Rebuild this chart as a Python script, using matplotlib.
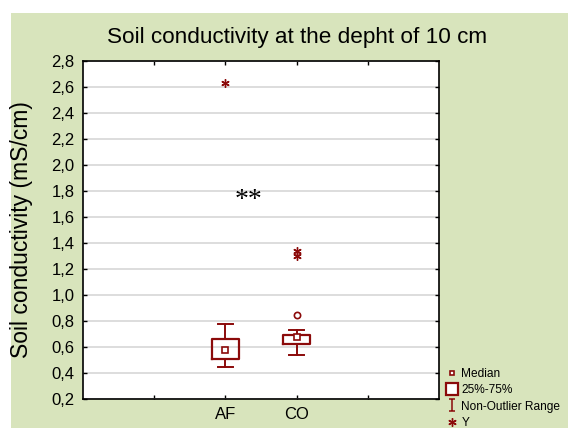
import numpy as np
import matplotlib.pyplot as plt
from matplotlib.patches import Rectangle
from matplotlib.lines import Line2D
from matplotlib.path import Path
from matplotlib.ticker import FuncFormatter

# group data
groups = ["AF", "CO"]
positions = [2, 3]
whisker_lo = [0.45, 0.54]
q1 = [0.51, 0.625]
medians = [0.575, 0.68]
q3 = [0.665, 0.695]
whisker_hi = [0.775, 0.73]
outliers = [[], [0.845]]
extremes = [[2.63], [1.34, 1.30]]

red = "#8b0a0a"
green_bg = "#d8e4bc"

plt.rcParams['font.family'] = ['Liberation Sans', 'DejaVu Sans']

fig = plt.figure(figsize=(5.68, 4.28), dpi=100)
fig.patches.append(Rectangle((11 / 568, 0), 1, 1 - 13 / 428, transform=fig.transFigure,
                             facecolor=green_bg, edgecolor="none", zorder=-10))

ax = fig.add_axes([83 / 568, 1 - 399 / 428, (439 - 83) / 568, (399 - 61) / 428])
ax.set_facecolor("white")

stats = []
for i in range(len(groups)):
    stats.append({"med": medians[i], "q1": q1[i], "q3": q3[i],
                  "whislo": whisker_lo[i], "whishi": whisker_hi[i],
                  "fliers": outliers[i], "label": groups[i]})

ax.bxp(stats, positions=positions, widths=0.39, showfliers=True,
       boxprops=dict(color=red, linewidth=1.6),
       whiskerprops=dict(color=red, linewidth=1.4),
       capprops=dict(color=red, linewidth=1.4),
       medianprops=dict(linestyle="none"),
       flierprops=dict(marker="o", markerfacecolor="white", markeredgecolor=red,
                       markersize=4.5, markeredgewidth=1.2),
       capwidths=0.2, zorder=3)

ax.plot(positions, medians, linestyle="none", marker="s", markersize=4.5,
        markerfacecolor="white", markeredgecolor=red, markeredgewidth=1.2, zorder=4)

for p, ex in zip(positions, extremes):
    ax.plot([p] * len(ex), ex, linestyle="none", marker=(6, 2, 0), markersize=6,
            color=red, markeredgewidth=1.0, zorder=4)

ax.text(2.33, 1.73, "**", family="Liberation Serif", fontsize=20, ha="center", va="center")

ax.set_xlim(0, 5)
ax.set_ylim(0.2, 2.8)
ax.set_xticks([1, 2, 3, 4])
ax.set_xticklabels(["", "AF", "CO", ""])
ax.set_yticks(np.arange(0.2, 2.81, 0.2))
ax.yaxis.set_major_formatter(FuncFormatter(lambda v, p: f"{v:.1f}".replace(".", ",")))
ax.tick_params(direction="in", length=3, top=True, right=True, labelsize=12, pad=6,
               width=1)
ax.grid(axis="y", color="#dadada", linewidth=1.3, zorder=0)
ax.set_axisbelow(True)
for s in ax.spines.values():
    s.set_linewidth(1.2)

ax.set_ylabel("Soil conductivity (mS/cm)", fontsize=16.5)
ax.yaxis.set_label_coords(-0.14, 0.5)
fig.text(297 / 568, 1 - 37 / 428, "Soil conductivity at the depht of 10 cm",
         fontsize=16.2, ha="center", va="center")

ibeam = Path([(-0.5, 1), (0.5, 1), (0, 1), (0, -1), (-0.5, -1), (0.5, -1)],
             [Path.MOVETO, Path.LINETO, Path.MOVETO, Path.LINETO, Path.MOVETO, Path.LINETO])
handles = [
    Line2D([], [], linestyle="none", marker="s", markersize=3.5, markerfacecolor="white",
           markeredgecolor=red, markeredgewidth=1.2),
    Line2D([], [], linestyle="none", marker="s", markersize=8.5, markerfacecolor="white",
           markeredgecolor=red, markeredgewidth=1.6),
    Line2D([], [], linestyle="none", marker=ibeam, markersize=9, fillstyle="none",
           markeredgecolor=red, markeredgewidth=1.1),
    Line2D([], [], linestyle="none", marker=(6, 2, 0), markersize=6, color=red),
]
fig.legend(handles, ["Median", "25%-75%", "Non-Outlier Range", "Y"],
           loc="upper left", bbox_to_anchor=(447 / 568, 1 - 368 / 428),
           frameon=False, fontsize=8.6, handlelength=0.8, handletextpad=0.4,
           labelspacing=0.36, borderpad=0, borderaxespad=0)

fig.savefig("out.png", dpi=100)
